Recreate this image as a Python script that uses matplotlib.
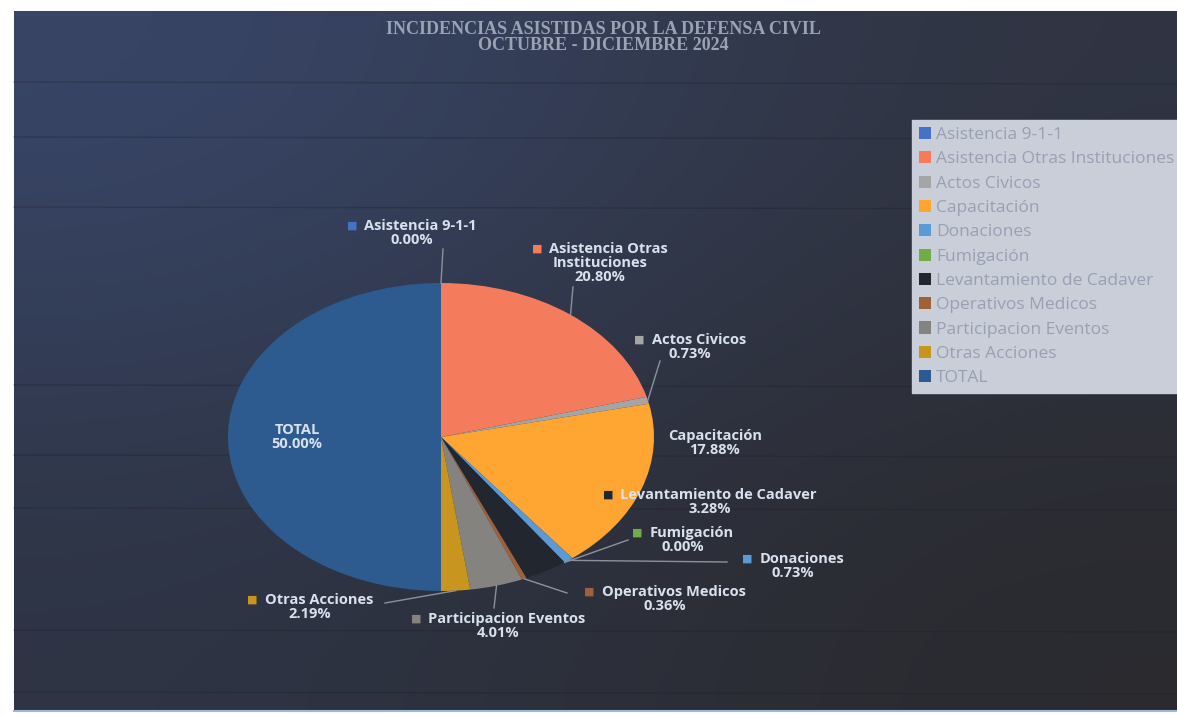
import numpy as np
import matplotlib.pyplot as plt
from matplotlib.offsetbox import TextArea, HPacker, VPacker, AnnotationBbox

# datos
categorias = ['Asistencia 9-1-1', 'Asistencia Otras Instituciones', 'Actos Civicos',
              'Capacitación', 'Donaciones', 'Fumigación', 'Levantamiento de Cadaver',
              'Operativos Medicos', 'Participacion Eventos', 'Otras Acciones', 'TOTAL']
valores = [0, 57, 2, 49, 2, 0, 9, 1, 11, 6, 137]
colores = ['#4472c4', '#f47b5c', '#a5a5a5', '#ffa531', '#5b9bd5', '#70ad47',
           '#22262e', '#a0603a', '#85837f', '#c8961e', '#2d5a8f']
titulo = ['INCIDENCIAS ASISTIDAS POR LA DEFENSA CIVIL', 'OCTUBRE - DICIEMBRE 2024']

W, H = 1177, 716
fig = plt.figure(figsize=(W / 100, H / 100), dpi=100)
fig.patch.set_facecolor('white')

# fondo (pixeles)
bg = fig.add_axes([0, 0, 1, 1], zorder=0)
bg.axis('off')
grad = np.array([[[56, 70, 104], [48, 52, 66]],
                 [[46, 52, 68], [42, 42, 46]]]) / 255
bg.imshow(grad, extent=(14, W, 710, 11), interpolation='bicubic', aspect='auto')
bg.plot([14, W], [711, 711], color='#9fb8d8', lw=1.5)
for y in [82, 137, 207, 385, 455, 508, 630, 692]:
    bg.plot([14, W], [y, y + 2], color='#1c1e24', lw=1, alpha=0.3)
bg.set_xlim(0, W)
bg.set_ylim(H, 0)

# pastel (elipse por la foto)
cx, cy, rx, ry = 441, 437, 213, 154
ax = fig.add_axes([(cx - rx) / W, 1 - (cy + ry) / H, 2 * rx / W, 2 * ry / H], zorder=1)
wedges, _ = ax.pie(valores, colors=colores, startangle=90, counterclock=False,
                   wedgeprops=dict(linewidth=0))
ax.set_aspect('auto')
ax.set_xlim(-1, 1)
ax.set_ylim(-1, 1)
ax.patch.set_alpha(0)

# capa de etiquetas
ov = fig.add_axes([0, 0, 1, 1], zorder=2)
ov.set_xlim(0, W)
ov.set_ylim(H, 0)
ov.axis('off')
ov.patch.set_alpha(0)

for i, t in enumerate(titulo):
    ov.text(603, 29 + i * 17, t, ha='center', va='center', color='#9aa2b4',
            fontsize=13, family='Liberation Serif', fontweight='bold')

# posiciones de etiqueta y final de guia (pixeles)
etiquetas = {
    0: ((412, 233), (443, 249), ['Asistencia 9-1-1']),
    1: ((600, 263), (573, 287), ['Asistencia Otras', 'Instituciones']),
    2: ((690, 347), (660, 361), ['Actos Civicos']),
    3: ((715, 443), None, ['Capacitación']),
    4: ((793, 566), (727, 562), ['Donaciones']),
    5: ((683, 540), (628, 540), ['Fumigación']),
    6: ((710, 502), None, ['Levantamiento de Cadaver']),
    7: ((665, 599), (567, 593), ['Operativos Medicos']),
    8: ((498, 626), (494, 608), ['Participacion Eventos']),
    9: ((310, 607), (385, 603), ['Otras Acciones']),
    10: ((297, 437), None, ['TOTAL']),
}

total = sum(valores)
tc = '#d9e1ee'
fp = dict(color=tc, fontsize=10.5, family='Open Sans', fontweight='bold')
theta = np.cumsum([0] + valores) / total
fig.canvas.draw()
for i, ((lx, ly), fin, lineas) in etiquetas.items():
    pct = f'{valores[i] / total * 100:.2f}%'
    filas = []
    if i == 10 or i == 3:
        filas.append(TextArea(lineas[0], textprops=fp))
    else:
        sq = TextArea('■', textprops=dict(color=colores[i], fontsize=8))
        filas.append(HPacker(children=[sq, TextArea(lineas[0], textprops=fp)],
                             align='center', pad=0, sep=5))
    for l in lineas[1:]:
        filas.append(TextArea(l, textprops=fp))
    filas.append(TextArea(pct, textprops=fp))
    caja = VPacker(children=filas, align='center', pad=0, sep=0)
    ab = AnnotationBbox(caja, (lx, ly), xycoords='data', frameon=False,
                        box_alignment=(0.5, 0.5), pad=0)
    ov.add_artist(ab)
    if fin is not None:
        a = np.deg2rad(90 - 360 * (theta[i] + theta[i + 1]) / 2)
        p = ax.transData.transform((np.cos(a), np.sin(a)))
        px, py = ov.transData.inverted().transform(p)
        ov.plot([px, fin[0]], [py, fin[1]], color='#8c929c', lw=1)

fig.legend(wedges, categorias, loc='upper left',
           bbox_to_anchor=(912 / W, 1 - 120 / H), frameon=True, fancybox=False,
           facecolor='#c9ced9', edgecolor='#c9ced9', framealpha=1,
           labelcolor='#98a0b2', handlelength=0.7, handleheight=0.7,
           handletextpad=0.3, borderpad=0.4, labelspacing=0.47, borderaxespad=0,
           prop=dict(family='Open Sans', size=12.5))

fig.savefig('out.png', dpi=100)
